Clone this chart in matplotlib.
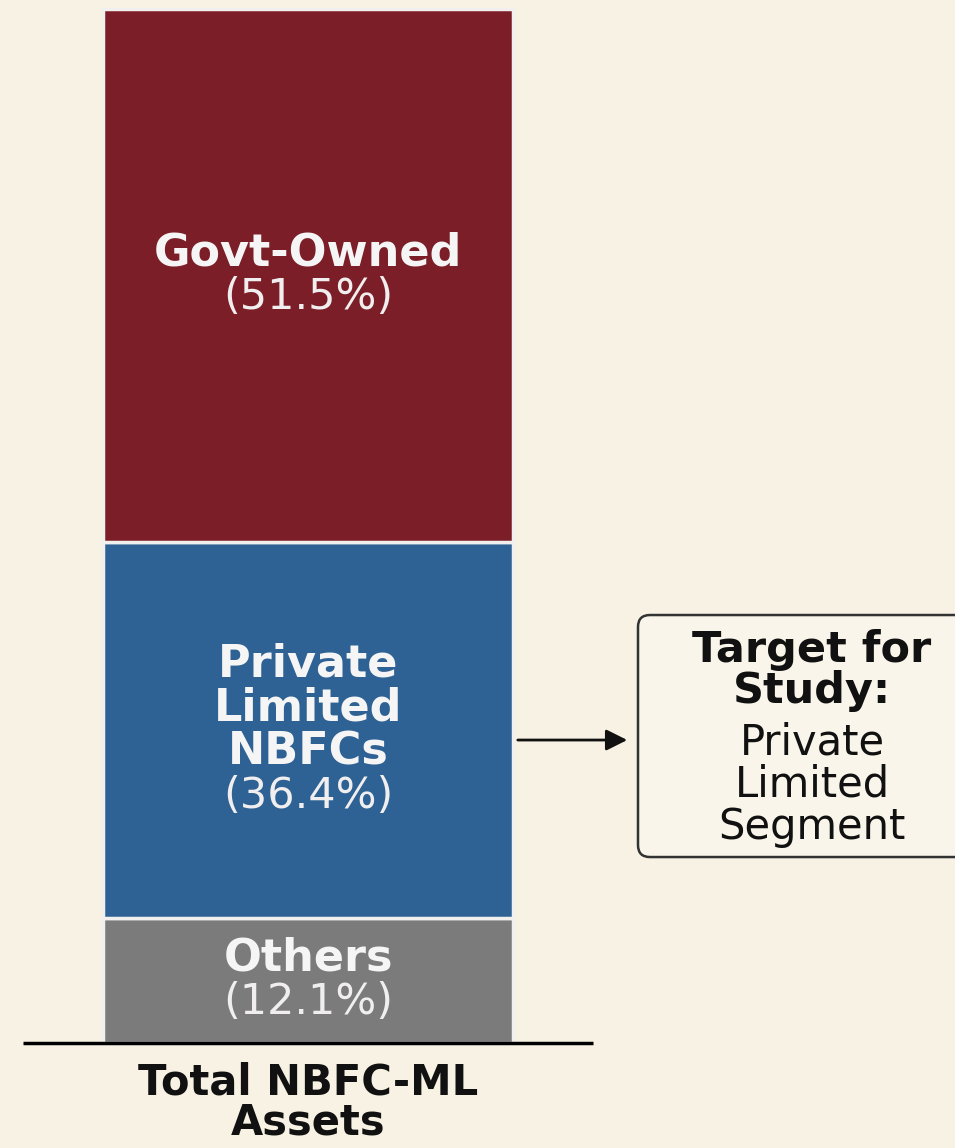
import matplotlib.pyplot as plt
from matplotlib.patches import FancyBboxPatch

# asset share by ownership, stacked bottom to top
segments = ["Others", "Private\nLimited\nNBFCs", "Govt-Owned"]
shares = [12.1, 36.4, 51.5]
colors = ["#7b7b7b", "#2e6294", "#7c1e27"]
bar_label = "Total NBFC-ML\nAssets"
note_bold = ["Target for", "Study:"]
note_plain = ["Private", "Limited", "Segment"]

bg = "#f7f2e3"
fig = plt.figure(figsize=(9.55, 11.48), dpi=100, facecolor=bg)
ax = fig.add_axes([0, 0, 1, 1])
ax.set_facecolor(bg)
ax.set_xlim(0, 955)
ax.set_ylim(-10.15, 100.87)
ax.axis("off")

bar_x = 308
bar_w = 410
bottom = 0
for name, val, c in zip(segments, shares, colors):
    ax.bar(bar_x, val, bottom=bottom, width=bar_w, color=c,
           edgecolor="#f2f0ee", linewidth=2.5)
    mid = bottom + val / 2
    lines = name.split("\n")
    n = len(lines) + 1
    step = 44
    top_off = step * (n - 1) / 2
    for i, ln in enumerate(lines):
        ax.annotate(ln, (bar_x, mid), xytext=(0, top_off - i * step),
                    textcoords="offset pixels", ha="center", va="center",
                    color="#f5f5f5", fontsize=32, fontweight="bold")
    ax.annotate(f"({val}%)", (bar_x, mid), xytext=(0, top_off - (n - 1) * step),
                textcoords="offset pixels", ha="center", va="center",
                color="#f0eeee", fontsize=31)
    bottom += val

# baseline under the stacked bar
ax.plot([23, 593], [0, 0], color="black", lw=2.5, solid_capstyle="butt")
ax.annotate(bar_label, (bar_x, 0), xytext=(0, -18),
            textcoords="offset pixels", ha="center", va="top",
            multialignment="center", linespacing=0.95,
            color="#111111", fontsize=30, fontweight="bold")

# callout for the private segment
arrow_y = (1043 - 740) / 10.34
ax.annotate("", xy=(630, arrow_y), xytext=(515, arrow_y),
            arrowprops=dict(arrowstyle="-|>", color="#111111", lw=2,
                            mutation_scale=32))
box_top = (1043 - 615) / 10.34
box_bot = (1043 - 857) / 10.34
ax.add_patch(FancyBboxPatch((638, box_bot), 340, box_top - box_bot,
                            boxstyle="round,pad=0,rounding_size=12",
                            mutation_aspect=1 / 10.34,
                            facecolor="#f9f5ea", edgecolor="#333333", lw=1.8))
note_cx = 812
for txt, py in zip(note_bold, [650, 691]):
    ax.text(note_cx, (1043 - py) / 10.34, txt, ha="center", va="center",
            fontsize=31, fontweight="bold", color="#111111")
for txt, py in zip(note_plain, [742, 784, 827]):
    ax.text(note_cx, (1043 - py) / 10.34, txt, ha="center", va="center",
            fontsize=30, color="#111111")

fig.savefig("out.png", dpi=100, facecolor=bg)
